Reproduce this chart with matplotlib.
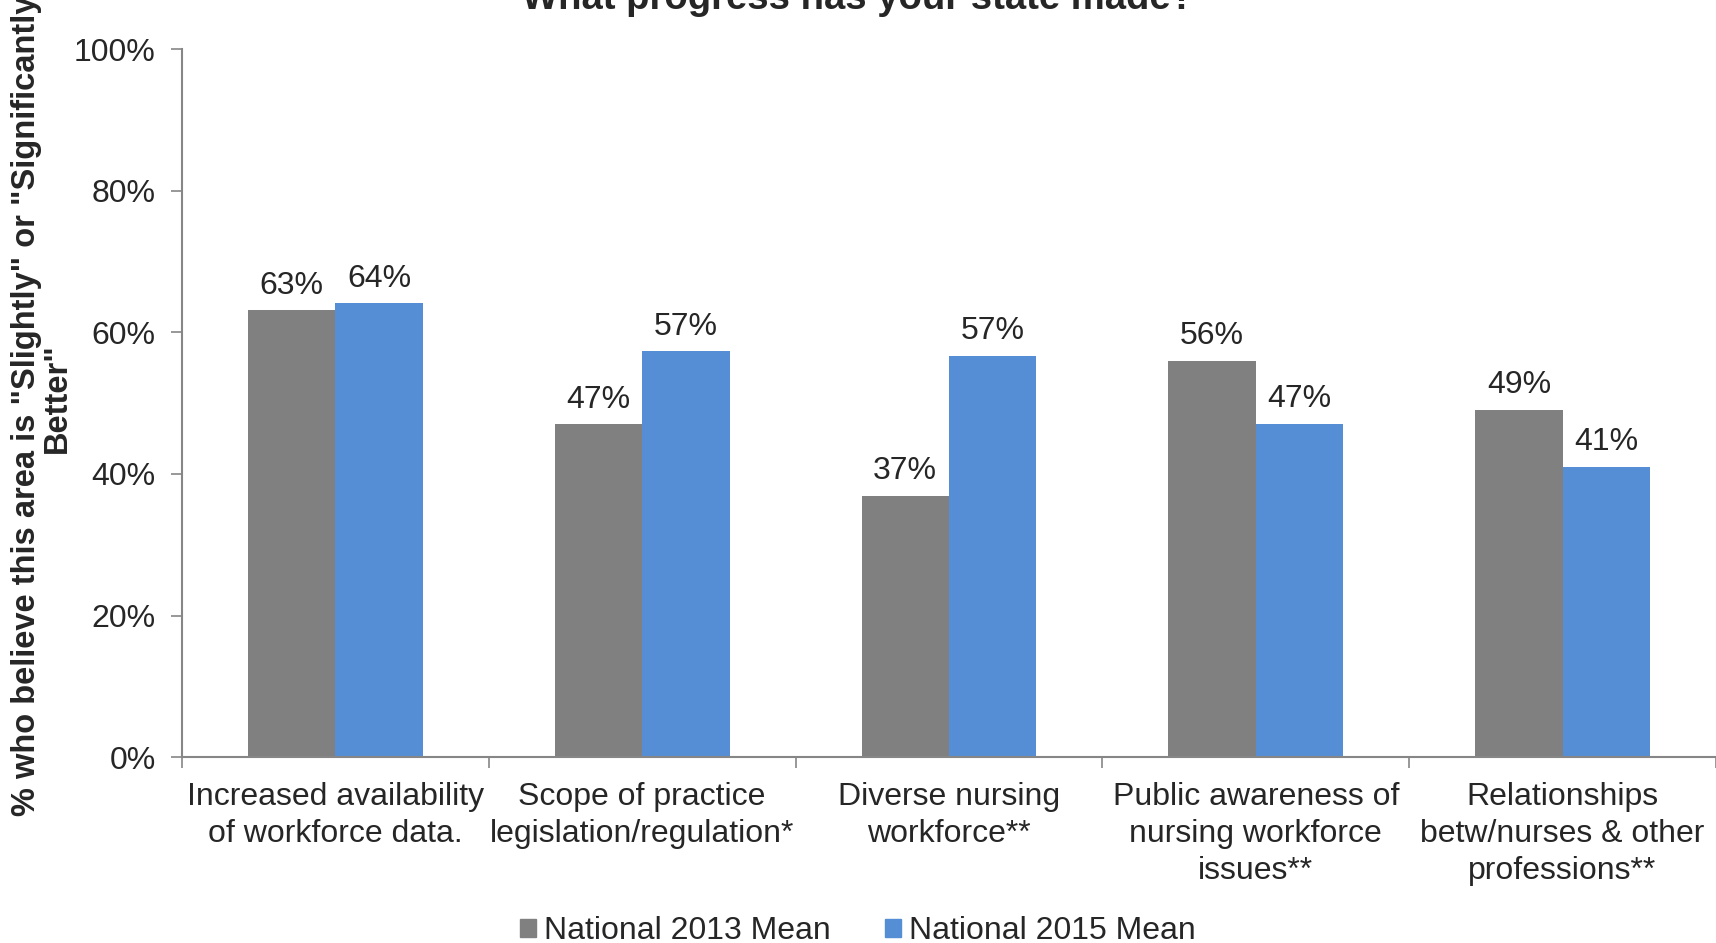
import matplotlib.pyplot as plt
from matplotlib.patches import Patch
import numpy as np

plt.rcParams['font.family'] = ['Liberation Sans', 'DejaVu Sans']

categories = ['Increased availability\nof workforce data.',
              'Scope of practice\nlegislation/regulation*',
              'Diverse nursing\nworkforce**',
              'Public awareness of\nnursing workforce\nissues**',
              'Relationships\nbetw/nurses & other\nprofessions**']
mean_2013 = [63.1, 47.0, 36.9, 56.0, 49.0]
mean_2015 = [64.1, 57.3, 56.7, 47.1, 41.0]
series_names = ['National 2013 Mean', 'National 2015 Mean']
yticks = [0, 20, 40, 60, 80, 100]

gray = '#808080'
blue = '#558ED5'
axis_col = '#868686'
text_col = '#262626'

fig = plt.figure(figsize=(17.16, 9.43), dpi=100)
ax = fig.add_axes([0.106, 0.197, 0.894, 0.751])

x = np.arange(len(categories))
w = 0.285
b1 = ax.bar(x - w / 2, mean_2013, w, color=gray, label=series_names[0])
b2 = ax.bar(x + w / 2, mean_2015, w, color=blue, label=series_names[1])

for bars, vals in ((b1, mean_2013), (b2, mean_2015)):
    for r, v in zip(bars, vals):
        ax.annotate('%.0f%%' % v, (r.get_x() + r.get_width() / 2, r.get_height()),
                    xytext=(0, 7), textcoords='offset points',
                    ha='center', va='bottom', fontsize=23, color=text_col)

ax.set_xlim(-0.5, len(categories) - 0.5)
ax.set_ylim(0, 100)
ax.set_yticks(yticks)
ax.set_yticklabels(['%d%%' % t for t in yticks])
ax.tick_params(axis='y', length=8, width=1.2, color=axis_col, pad=11,
               labelsize=23, labelcolor=text_col)

ax.set_xticks(x)
ax.set_xticklabels(categories, linespacing=1.3)
ax.set_xticks(np.arange(-0.5, len(categories)), minor=True)
ax.tick_params(axis='x', which='major', length=0, pad=18,
               labelsize=23, labelcolor=text_col)
ax.tick_params(axis='x', which='minor', length=8, width=1.2, color=axis_col)

for s in ['top', 'right']:
    ax.spines[s].set_visible(False)
for s in ['left', 'bottom']:
    ax.spines[s].set_color(axis_col)
    ax.spines[s].set_linewidth(1.5)

# axis title is longer than the plot, top end runs off the figure like the original
fig.text(0.0245, 0.578,
         '% who believe this area is "Slightly" or "Significantly"\nBetter"',
         rotation=90, ha='center', va='center', ma='center', linespacing=1.0,
         fontsize=23.5, fontweight='bold', color=text_col)

fig.text(0.5, 0.990, 'What progress has your state made?', ha='center',
         va='baseline', fontsize=27.5, fontweight='bold', color=text_col)

handles = [Patch(color=gray, label=series_names[0]),
           Patch(color=blue, label=series_names[1])]
fig.legend(handles=handles, loc='center', bbox_to_anchor=(0.5, 0.0125),
           ncol=2, frameon=False, fontsize=23, handlelength=0.5,
           handleheight=0.5, handletextpad=0.25, columnspacing=1.7,
           labelcolor=text_col)

fig.savefig('out.png', dpi=100)
